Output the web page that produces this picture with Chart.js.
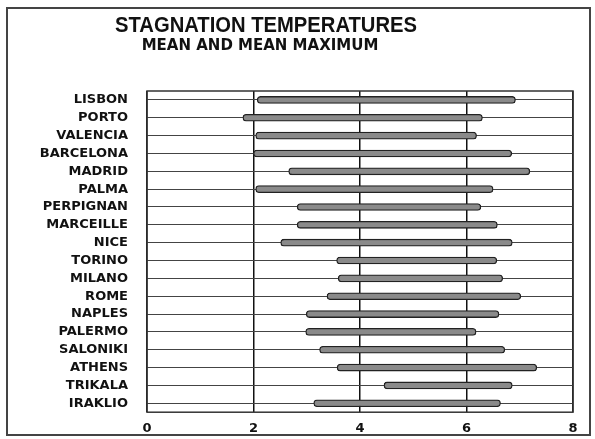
<!DOCTYPE html>
<html>
<head>
<meta charset="utf-8">
<script src="https://cdn.jsdelivr.net/npm/chart.js@4"></script>
<style>
  html, body { margin: 0; padding: 0; background: #fff; }
  #wrap { width: 595px; height: 439px; position: relative; }
</style>
</head>
<body>
<div id="wrap"><canvas id="myChart" width="595" height="439"></canvas></div>
<script>
// cities top to bottom
const cities = ['LISBON','PORTO','VALENCIA','BARCELONA','MADRID','PALMA','PERPIGNAN','MARCEILLE','NICE',
  'TORINO','MILANO','ROME','NAPLES','PALERMO','SALONIKI','ATHENS','TRIKALA','IRAKLIO'];
// mean (bar start) and mean maximum (bar end)
const meanVals    = [2.07, 1.80, 2.04, 2.00, 2.66, 2.04, 2.82, 2.82, 2.51, 3.56, 3.59, 3.38, 2.99, 2.98, 3.24, 3.57, 4.45, 3.13];
const meanMaxVals = [6.92, 6.30, 6.19, 6.85, 7.19, 6.50, 6.27, 6.58, 6.86, 6.57, 6.68, 7.02, 6.61, 6.18, 6.72, 7.32, 6.86, 6.64];
const xTicks = [0, 2, 4, 6, 8];

const titleText = 'STAGNATION TEMPERATURES';
const subtitleText = 'MEAN AND MEAN MAXIMUM';

const frames = {
  id: 'frames',
  afterDraw(chart) {
    const c = chart.ctx, a = chart.chartArea;
    c.save();
    c.strokeStyle = '#333';
    c.lineWidth = 1.5;
    c.strokeRect(a.left, a.top, a.right - a.left, a.bottom - a.top);
    c.lineWidth = 2;
    c.strokeStyle = '#444';
    c.strokeRect(7, 8, 583, 427);
    c.fillStyle = '#111';
    c.textAlign = 'center';
    c.textBaseline = 'alphabetic';
    c.font = 'bold 22px "Liberation Sans", Arial, sans-serif';
    c.fillText(titleText, 266, 32, 302);
    c.font = 'bold 15px "DejaVu Sans", sans-serif';
    c.fillText(subtitleText, 260, 50, 249);
    c.restore();
  }
};

const ctx = document.getElementById('myChart');
new Chart(ctx, {
  type: 'bar',
  data: {
    labels: cities,
    datasets: [{
      label: 'Mean to mean maximum',
      data: cities.map((c, i) => [meanVals[i], meanMaxVals[i]]),
      backgroundColor: '#8a8a8a',
      borderColor: '#222',
      borderWidth: 1.3,
      borderRadius: 4,
      borderSkipped: false,
      barThickness: 7
    }]
  },
  options: {
    indexAxis: 'y',
    responsive: false,
    animation: false,
    layout: { padding: { left: 0, top: 91, right: 22, bottom: 0 } },
    plugins: {
      legend: { display: false },
      title: { display: false },
      tooltip: { enabled: false }
    },
    scales: {
      x: {
        min: 0,
        max: 8,
        z: 1,
        afterBuildTicks: (scale) => { scale.ticks = xTicks.map(v => ({ value: v })); },
        afterFit: (scale) => { scale.height = 26; },
        border: { display: false },
        grid: { color: '#111', lineWidth: 1.5, drawTicks: false },
        ticks: {
          color: '#111',
          padding: 9,
          font: { family: '"DejaVu Sans", sans-serif', size: 13, weight: 'bold' }
        }
      },
      y: {
        afterFit: (scale) => { scale.width = 147; },
        border: { display: false },
        grid: { offset: false, color: '#444', lineWidth: 1, drawTicks: false },
        ticks: {
          color: '#111',
          padding: 19,
          font: { family: '"DejaVu Sans", sans-serif', size: 13, weight: 'bold' }
        }
      }
    }
  },
  plugins: [frames]
});
</script>
</body>
</html>
